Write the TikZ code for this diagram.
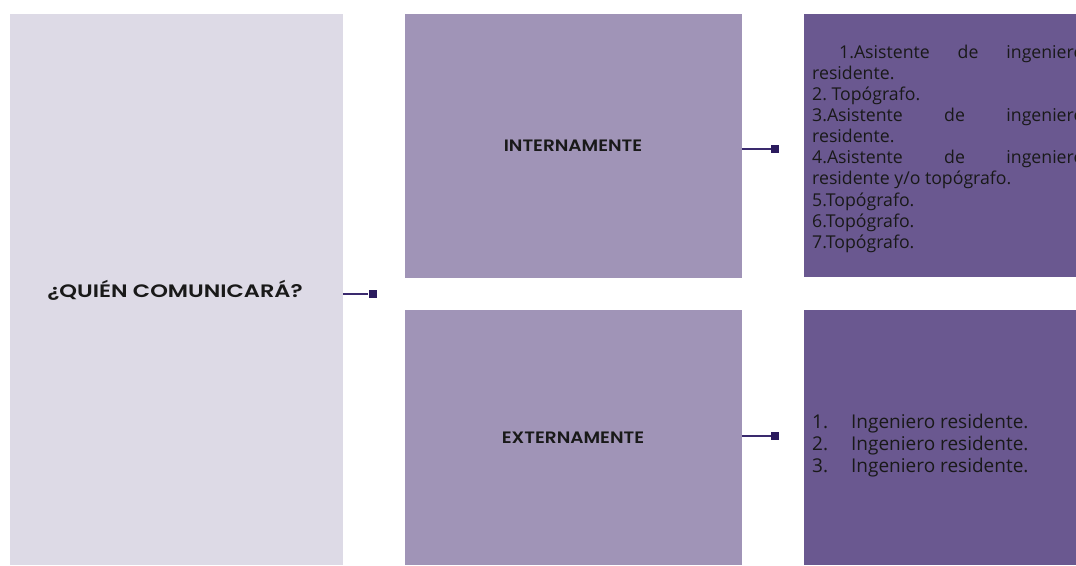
\documentclass[tikz,border=0pt]{standalone}
\usepackage{fontspec}
\setmainfont{Poppins}
\newfontfamily\titlefont[FakeStretch=1.25]{Poppins SemiBold}
\newfontfamily\subfont[FakeStretch=1.12]{Poppins SemiBold}
\newfontfamily\bodyfont{Open Sans}
\definecolor{lightbox}{HTML}{DDDAE6}
\definecolor{midbox}{HTML}{A094B7}
\definecolor{darkbox}{HTML}{6A5890}
\definecolor{linkcol}{HTML}{3A2A6E}
\definecolor{sqcol}{HTML}{2B1B5E}
\begin{document}
\frenchspacing
\begin{tikzpicture}[x=1pt,y=-1pt,
  head/.style={font=\titlefont\fontsize{18}{21}\selectfont, text=black!90, inner sep=0pt, anchor=base},
  sub/.style={font=\subfont\fontsize{16.5}{19}\selectfont, text=black!90, inner sep=0pt, anchor=base},
  body/.style={font=\bodyfont\fontsize{17.7}{21.1}\selectfont, text=black!90, align=justify, text width=272pt, inner sep=0pt, anchor=base west},
  link/.style={draw=linkcol, line width=1.8pt},
  sq/.style={fill=sqcol, minimum size=8pt, inner sep=0pt}]
\useasboundingbox (0,0) rectangle (1076,565);
\fill[white] (0,0) rectangle (1076,565);
% panels
\fill[lightbox] (10,14) rectangle (343,565);
\fill[midbox] (405,14) rectangle (742,278);
\fill[midbox] (405,310) rectangle (742,565);
\fill[darkbox] (804,14) rectangle (1076,277);
\fill[darkbox] (804,310) rectangle (1076,565);
% texts
\node[head] (quien) at (175,297) {¿QUIÉN COMUNICARÁ?};
\node[sub] (intern) at (573,151.5) {INTERNAMENTE};
\node[sub] (extern) at (573,443) {EXTERNAMENTE};
\node[body] (listint) at (812,58.3) {%
\hspace*{27pt}1.Asistente de ingeniero\linebreak residente.\par
2. Topógrafo.\par
3.Asistente de ingeniero\linebreak residente.\par
4.Asistente de ingeniero\linebreak residente y/o topógrafo.\par
5.Topógrafo.\par
6.Topógrafo.\par
7.Topógrafo.};
\node[font=\bodyfont\fontsize{19}{21.7}\selectfont, text=black!90, align=left, inner sep=0pt, anchor=north west] (listext) at (812,414) {%
\makebox[39pt][l]{1.}Ingeniero residente.\\
\makebox[39pt][l]{2.}Ingeniero residente.\\
\makebox[39pt][l]{3.}Ingeniero residente.};
% connectors
\coordinate (lsrc) at (343,294);
\node[sq] (sq1) at (372.5,294) {};
\coordinate (tsrc) at (742,149);
\node[sq] (sq2) at (775,149) {};
\coordinate (bsrc) at (742,436);
\node[sq] (sq3) at (775,436) {};
\draw[link] (lsrc) -- (sq1.west);
\draw[link] (tsrc) -- (sq2.west);
\draw[link] (bsrc) -- (sq3.west);
\end{tikzpicture}
\end{document}
